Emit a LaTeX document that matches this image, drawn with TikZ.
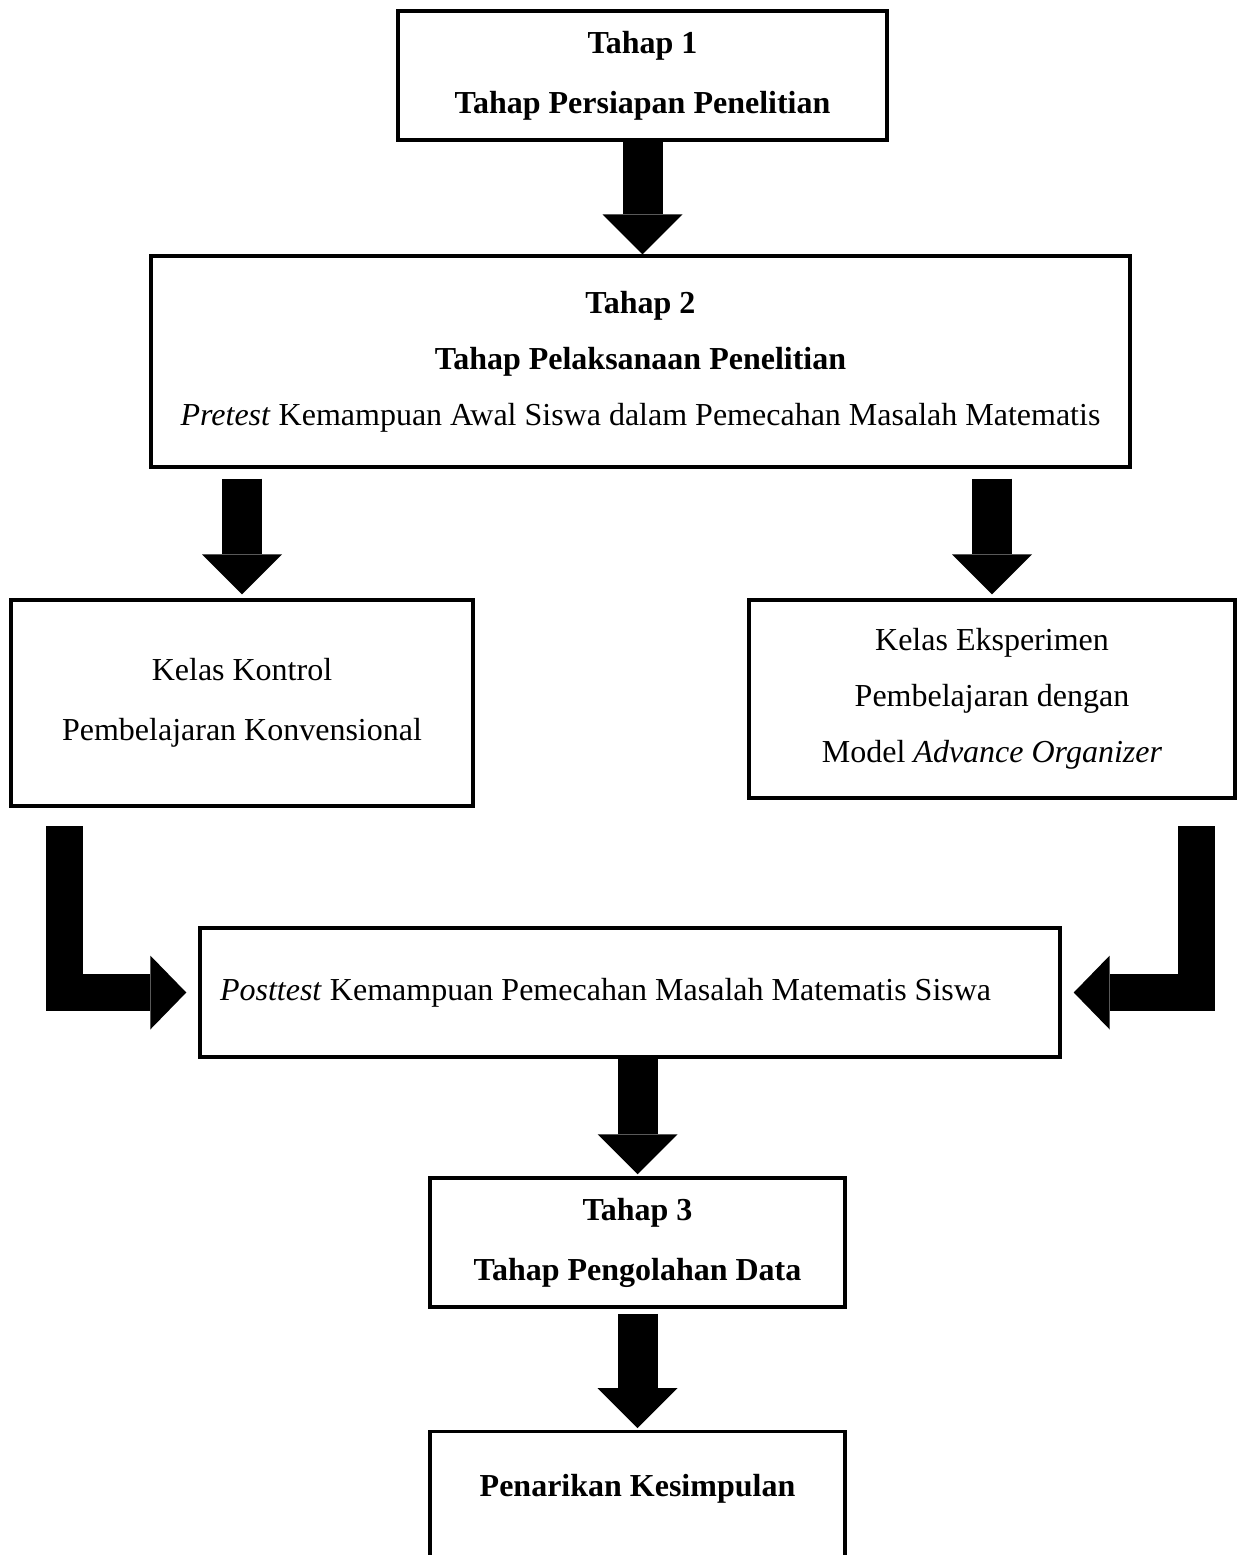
\documentclass[tikz,border=0pt]{standalone}
\usepackage{fontspec}
\setmainfont{Liberation Serif}
\usetikzlibrary{arrows.meta,positioning}

\begin{document}
\begin{tikzpicture}[
  x=0.375pt, y=-0.375pt,
  every node/.style={font=\fontsize{12pt}{22.5pt}\selectfont},
  stage/.style={draw, line width=1.3pt, align=center, inner sep=3pt},
  tight/.style={font=\fontsize{12pt}{21pt}\selectfont},
  bigarrow/.style={line width=15pt, -{Triangle[width=30pt,length=15pt,line width=0pt]}},
  elbow/.style={line width=13.9pt, -{Triangle[width=27.75pt,length=13.5pt,line width=0pt]}}
]
  \useasboundingbox (0,0) rectangle (1237,1555);
  \clip (0,0) rectangle (1237,1555);

  % boxes
  \node[stage, minimum width=183.4pt, minimum height=48.4pt] (tahap1) at (642.5,75.5)
    {\textbf{Tahap 1}\\\textbf{Tahap Persiapan Penelitian}};
  \node[stage, tight, minimum width=367.1pt, minimum height=79.1pt] (tahap2) at (640.5,361.5)
    {\textbf{Tahap 2}\\\textbf{Tahap Pelaksanaan Penelitian}\\
     \textit{Pretest} Kemampuan Awal Siswa dalam Pemecahan Masalah Matematis};
  \node[stage, minimum width=173.25pt, minimum height=77.25pt] (kontrol) at (242,703)
    {Kelas Kontrol\\Pembelajaran Konvensional};
  \node[stage, tight, minimum width=182.25pt, minimum height=74.25pt] (eksperimen) at (992,699)
    {Kelas Eksperimen\\Pembelajaran dengan\\Model \textit{Advance Organizer}};
  \node[stage, align=flush left, text width=307.5pt, minimum width=322.5pt, minimum height=48.4pt]
    (posttest) at (630,992.5)
    {\textit{Posttest} Kemampuan Pemecahan Masalah Matematis Siswa};
  \node[stage, minimum width=155.6pt, minimum height=48.4pt] (tahap3) at (637.5,1242.5)
    {\textbf{Tahap 3}\\\textbf{Tahap Pengolahan Data}};
  \node[stage, anchor=north, inner ysep=0pt, text height=24.4pt, text depth=40pt,
    minimum width=155.6pt] (simpulan) at (637.5,1430)
    {\textbf{Penarikan Kesimpulan}};

  % arrows
  \draw[bigarrow] (tahap1.south) -- (tahap1.south |- tahap2.north);
  \draw[bigarrow] ([yshift=-3.75pt]tahap2.south -| kontrol.north) -- ([yshift=1.5pt]kontrol.north);
  \draw[bigarrow] ([yshift=-3.75pt]tahap2.south -| eksperimen.north) -- ([yshift=1.5pt]eksperimen.north);
  \draw[elbow,shorten >=4.5pt] ([xshift=20.8pt,yshift=-7pt]kontrol.south west) |- (posttest.west);
  \draw[elbow,shorten >=4.5pt] ([xshift=-15.2pt,yshift=-10pt]eksperimen.south east) |- (posttest.east);
  \draw[bigarrow] (tahap3.north |- posttest.south) -- ([yshift=0.75pt]tahap3.north);
  \draw[bigarrow] ([yshift=-1.9pt]tahap3.south) -- ([yshift=0.75pt]simpulan.north);
\end{tikzpicture}
\end{document}
